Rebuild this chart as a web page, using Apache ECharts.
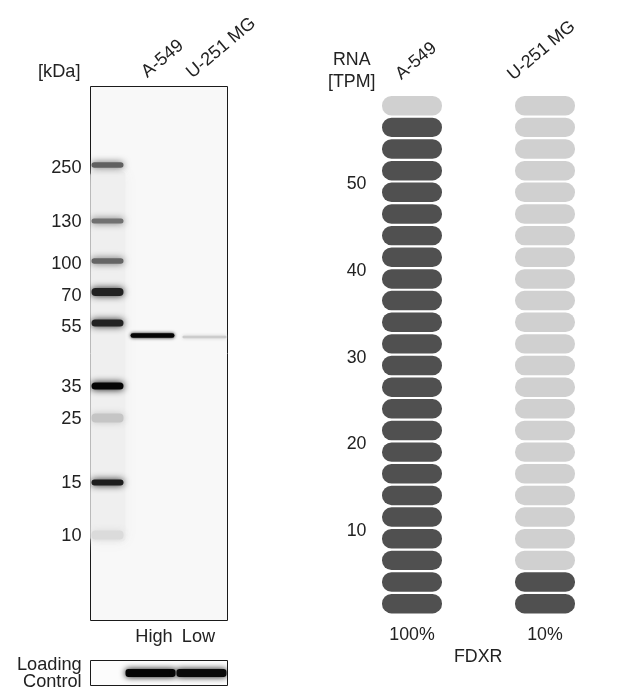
<!DOCTYPE html>
<html>
<head>
<meta charset="utf-8">
<style>html,body{margin:0;padding:0;background:#fff}#c{width:640px;height:690px;filter:blur(0.45px)}</style>
<script src="https://cdn.jsdelivr.net/npm/echarts@6/dist/echarts.min.js"></script>
</head>
<body>
<div id="c"></div>
<script>
// Western blot
const kdaLabels = ['250','130','100','70','55','35','25','15','10'];
const kdaLabelMigration = [81,135,177,209.5,240.5,300,332,396,449];
const ladderMigration = [78.5,134.5,174.5,205.5,236.5,299.5,331.5,396,448.5];
const ladderThickness = [5.5,5,5.5,8,7,7,9,6,9];
const ladderDarkness = [0.62,0.55,0.6,0.88,0.88,1,0.2,0.9,0.11];
const ladderSmear = [270,370,0.025];
const sampleLanes = ['High','Low'];
const sampleMigration = [249,250.5];
const sampleThickness = [4.5,2.4];
const sampleDarkness = [1,0.17];
const loadingDarkness = [1,0.98];
// RNA
const rnaLanes = ['A-549','U-251 MG'];
const rnaTpm = [57.5,5];
const rnaPercent = ['100%','10%'];
const rnaMax = 60;
const rnaStep = 2.5;

const font = '"Liberation Sans", Arial, sans-serif';
const ink = '#222';
const leftSize = 18.2, rightSize = 17.8;
const tilt = 40 * Math.PI / 180;
const laneSpans = {ladder:[1,33],smear:[0,35],High:[40,84],Low:[92,136]};

const grey = d => { const v = Math.round(245 - 240*d); return `rgb(${v},${v},${v})`; };

const blotRows = [
  ['smear',ladderSmear[0],ladderSmear[1],ladderSmear[2]],
  ...ladderMigration.map((m,i)=>['ladder',m,ladderThickness[i],ladderDarkness[i]]),
  ...sampleLanes.map((l,i)=>[l,sampleMigration[i],sampleThickness[i],sampleDarkness[i]])
];
const pillRows = [];
rnaLanes.forEach((l,i)=>{
  for(let low=0; low<rnaMax; low+=rnaStep){
    pillRows.push([i, low, low+rnaStep, low+rnaStep<=rnaTpm[i] ? 1 : 0]);
  }
});

function bandItem(params, api){
  const row = blotRows[params.dataIndex];
  const span = laneSpans[row[0]];
  const a = api.coord([span[0], row[1]]);
  const b = api.coord([span[1], row[1]]);
  const h = row[2];
  const c = grey(row[3]);
  const blur = row[0]==='smear' ? 14 : row[0]==='ladder' ? 7 : 3.5;
  return {type:'rect',shape:{x:a[0],y:a[1]-h/2,width:b[0]-a[0],height:h,r:Math.min(h/2,4)},
    style:{fill:c,shadowColor:c,shadowBlur:blur}};
}
function loadItem(params, api){
  const i = params.dataIndex;
  const spans = [[35,85],[86,136]];
  const a = api.coord([spans[i][0], 0.5]);
  const b = api.coord([spans[i][1], 0.5]);
  const c = grey(loadingDarkness[i]);
  return {type:'rect',shape:{x:a[0],y:a[1]-4,width:b[0]-a[0],height:8,r:3},
    style:{fill:c,shadowColor:c,shadowBlur:6}};
}
function pillItem(params, api){
  const x = api.coord([api.value(0),0])[0];
  const y0 = api.coord([0,api.value(1)])[1];
  const y1 = api.coord([0,api.value(2)])[1];
  const w = 60, gap = 1.1;
  return {type:'rect',shape:{x:x-w/2,y:y1+gap,width:w,height:y0-y1-2*gap,r:9.5},
    style:{fill:api.value(3)?'#505050':'#d0d0d0'}};
}
const txt = (text,x,y,size,rot)=>({type:'text',x,y,rotation:rot||0,silent:true,
  style:{text,font:`${size}px ${font}`,fill:ink,align:'left',verticalAlign:'middle'}});

const option = {
  animation:false,
  backgroundColor:'#fff',
  grid:[
    {left:90.5,top:86.5,width:137,height:534,show:true,backgroundColor:'#f8f8f8',borderColor:'#1a1a1a',borderWidth:1},
    {left:90.5,top:660.5,width:137,height:25,show:true,backgroundColor:'#fcfcfc',borderColor:'#1a1a1a',borderWidth:1},
    {left:345.5,top:94.9,width:266,height:519.6,show:false}
  ],
  xAxis:[
    {gridIndex:0,type:'value',min:0,max:137,splitLine:{show:false},axisLine:{show:false},axisTick:{show:false},
     axisLabel:{show:true,customValues:[63.5,108],margin:7,color:ink,fontFamily:font,fontSize:leftSize,
       formatter:v=>v<85?sampleLanes[0]:sampleLanes[1]}},
    {gridIndex:1,type:'value',min:0,max:137,show:false},
    {gridIndex:2,type:'category',data:rnaLanes,axisLine:{show:false},axisTick:{show:false},
     axisLabel:{margin:12,color:ink,fontFamily:font,fontSize:rightSize,formatter:(v,i)=>rnaPercent[i]}}
  ],
  yAxis:[
    {gridIndex:0,type:'value',inverse:true,min:0,max:534,splitLine:{show:false},axisLine:{show:false},axisTick:{show:false},
     axisLabel:{show:true,customValues:kdaLabelMigration,margin:9,color:ink,fontFamily:font,fontSize:leftSize,
       formatter:v=>kdaLabels[kdaLabelMigration.indexOf(v)]}},
    {gridIndex:1,type:'value',min:0,max:1,show:false},
    {gridIndex:2,type:'value',min:0,max:rnaMax,interval:10,splitLine:{show:false},axisLine:{show:false},axisTick:{show:false},
     axisLabel:{margin:-21,color:ink,fontFamily:font,fontSize:rightSize,verticalAlign:'top',lineHeight:6,formatter:v=>(v===0||v===60)?'':String(v)}}
  ],
  series:[
    {type:'custom',xAxisIndex:0,yAxisIndex:0,clip:true,renderItem:bandItem,data:blotRows.map(r=>[0,r[1]]),encode:{x:0,y:1},silent:true},
    {type:'custom',xAxisIndex:1,yAxisIndex:1,clip:true,renderItem:loadItem,data:loadingDarkness.map(d=>[0,d]),silent:true},
    {type:'custom',xAxisIndex:2,yAxisIndex:2,renderItem:pillItem,data:pillRows,encode:{x:0,y:[1,2]},silent:true}
  ],
  graphic:{elements:[
    txt('[kDa]',38,72,leftSize),
    txt(rnaLanes[0],144,74.5,leftSize,tilt),
    txt(rnaLanes[1],189,75,leftSize,tilt),
    txt(rnaLanes[0],398,76.5,rightSize,tilt),
    txt(rnaLanes[1],510,77,rightSize,tilt),
    txt('RNA',333,60,rightSize),
    txt('[TPM]',328,82,rightSize),
    txt('FDXR',454,657,rightSize),
    txt('Loading',17,665,leftSize),
    txt('Control',23,682,leftSize)
  ]}
};
echarts.init(document.getElementById('c'),null,{renderer:'canvas'}).setOption(option);
</script>
</body>
</html>
